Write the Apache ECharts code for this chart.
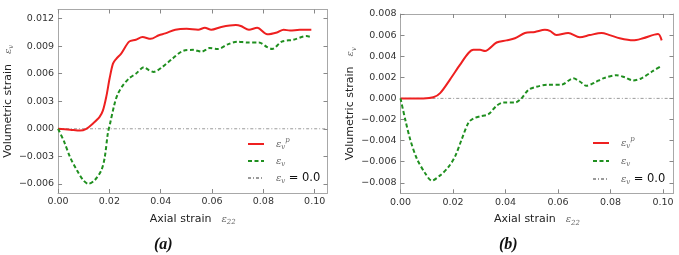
<!DOCTYPE html>
<html>
<head>
<meta charset="utf-8">
<script src="https://cdn.jsdelivr.net/npm/echarts@6/dist/echarts.min.js"></script>
<style>
  html, body { margin: 0; padding: 0; background: #fff; }
  #chart { width: 679px; height: 255px; }
</style>
</head>
<body>
<div id="chart"></div>
<script>
// (a) plastic volumetric strain
const axialA_p = [0, 0.0047, 0.0086, 0.011, 0.0137, 0.0162, 0.0175, 0.0188, 0.0201, 0.0214, 0.0226, 0.0246, 0.0277, 0.0303, 0.0329, 0.0361, 0.0393, 0.0418, 0.0457, 0.0501, 0.0546, 0.0572, 0.0597, 0.0636, 0.0693, 0.0712, 0.0744, 0.0776, 0.0815, 0.0853, 0.0879, 0.0904, 0.0942, 0.0987]
const volA_p = [0, -0.0001, -0.0002, 0, 0.0006, 0.0013, 0.002, 0.0035, 0.0055, 0.0071, 0.0076, 0.0082, 0.0095, 0.0097, 0.01, 0.0098, 0.0102, 0.0104, 0.0108, 0.0109, 0.0108, 0.011, 0.0108, 0.0111, 0.0113, 0.0112, 0.0108, 0.011, 0.0103, 0.0105, 0.0108, 0.0107, 0.0108, 0.0108]
// (a) total volumetric strain
const axialA_v = [0, 0.0022, 0.0047, 0.0073, 0.0098, 0.0118, 0.0143, 0.0169, 0.0182, 0.0194, 0.0203, 0.022, 0.0233, 0.0252, 0.0277, 0.0303, 0.0335, 0.0354, 0.0373, 0.0405, 0.0444, 0.0488, 0.0527, 0.0559, 0.0591, 0.0623, 0.0661, 0.0699, 0.0738, 0.0783, 0.0815, 0.0834, 0.0872, 0.0917, 0.0968, 0.0987]
const volA_v = [0, -0.0013, -0.0031, -0.0045, -0.0056, -0.006, -0.0056, -0.0045, -0.0031, -0.0005, 0.0006, 0.0027, 0.0038, 0.0047, 0.0055, 0.006, 0.0067, 0.0064, 0.0062, 0.0067, 0.0076, 0.0085, 0.0086, 0.0084, 0.0088, 0.0087, 0.0092, 0.0095, 0.0094, 0.0094, 0.0089, 0.0087, 0.0095, 0.0097, 0.0101, 0.01]
// (b) plastic volumetric strain
const axialB_p = [0, 0.0087, 0.0125, 0.0151, 0.0189, 0.0227, 0.0259, 0.0278, 0.0303, 0.0322, 0.0366, 0.0404, 0.0436, 0.0474, 0.0512, 0.055, 0.0569, 0.0594, 0.0639, 0.0683, 0.0721, 0.0766, 0.0797, 0.0835, 0.0886, 0.0924, 0.0981, 0.0995]
const volB_p = [0, 0, 0.0001, 0.0005, 0.0018, 0.0032, 0.0043, 0.0046, 0.0046, 0.0045, 0.0053, 0.0055, 0.0057, 0.0062, 0.0063, 0.0065, 0.0064, 0.006, 0.0062, 0.0058, 0.006, 0.0062, 0.006, 0.0057, 0.0055, 0.0057, 0.0061, 0.0055]
// (b) total volumetric strain
const axialB_v = [0, 0.0018, 0.0037, 0.0062, 0.0094, 0.0119, 0.0151, 0.0183, 0.0208, 0.0233, 0.0259, 0.0278, 0.0303, 0.0335, 0.0366, 0.0392, 0.0436, 0.0461, 0.0487, 0.0518, 0.0563, 0.0613, 0.0658, 0.0683, 0.0708, 0.074, 0.0772, 0.0823, 0.0854, 0.0886, 0.0918, 0.0962, 0.0995]
const volB_v = [0, -0.002, -0.0039, -0.0057, -0.0071, -0.0078, -0.0073, -0.0065, -0.0055, -0.0039, -0.0023, -0.0019, -0.0017, -0.0015, -0.0007, -0.0004, -0.0004, 0, 0.0008, 0.0011, 0.0013, 0.0013, 0.0019, 0.0016, 0.0012, 0.0015, 0.0019, 0.0022, 0.002, 0.0017, 0.0019, 0.0026, 0.0031]
// reference line eps_v = 0
const zeroX_A = [0, 0.105]
const zeroX_B = [0, 0.104]
const zeroY = [0, 0]

// tick labels
const xTicks = [0, 0.02, 0.04, 0.06, 0.08, 0.1]
const yTicksA = [-0.006, -0.003, 0, 0.003, 0.006, 0.009, 0.012]
const yTicksB = [-0.008, -0.006, -0.004, -0.002, 0, 0.002, 0.004, 0.006, 0.008]

const RED = '#ee2020'
const GREEN = '#1f8f1f'
const GREY = '#9a9a9a'
const FRAME = '#a8a8a8'

const pairs = (xs, ys) => xs.map((x, i) => [x, ys[i]])
const fmt = d => v => v.toFixed(d).replace('-', '\u2212')

const eps = {
  t: { fontFamily: 'DejaVu Sans', fontSize: 11, color: '#222' },
  e: { fontFamily: 'DejaVu Serif', fontStyle: 'italic', fontSize: 10, color: '#666' },
  s: { fontFamily: 'DejaVu Serif', fontStyle: 'italic', fontSize: 7, color: '#666', verticalAlign: 'bottom' },
  p: { fontFamily: 'DejaVu Serif', fontStyle: 'italic', fontSize: 7, color: '#666', verticalAlign: 'top' },
  q: { fontFamily: 'DejaVu Sans', fontSize: 11.5, color: '#111' }
}

/* 坐标轴工厂 */
function xAxisOf(grid, max, pos) {
  const main = pos === 'bottom'
  return {
    type: 'value', gridIndex: grid, position: pos, min: 0, max: max,
    name: main ? '{t|Axial strain}   {e|ε}{s|22}' : '',
    nameLocation: 'middle', nameGap: 19,
    nameTextStyle: { rich: eps, lineHeight: 14 },
    axisLine: { show: true, onZero: false, lineStyle: { color: FRAME, width: 1 } },
    axisTick: { show: true, inside: true, length: 4, customValues: xTicks, lineStyle: { color: '#888' } },
    axisLabel: { show: main, customValues: xTicks, formatter: fmt(2), margin: 4, fontFamily: 'DejaVu Sans', fontSize: 9.5, color: '#333' },
    splitLine: { show: false }
  }
}
function yAxisOf(grid, min, max, ticks, pos, gap) {
  const main = pos === 'left'
  return {
    type: 'value', gridIndex: grid, position: pos, min: min, max: max,
    name: main ? '{t|Volumetric strain}   {e|ε}{s|v}' : '',
    nameLocation: 'middle', nameGap: gap, nameRotate: 90,
    nameTextStyle: { rich: eps, lineHeight: 14 },
    axisLine: { show: true, onZero: false, lineStyle: { color: FRAME, width: 1 } },
    axisTick: { show: true, inside: true, length: 4, customValues: ticks, lineStyle: { color: '#888' } },
    axisLabel: { show: main, customValues: ticks, formatter: fmt(3), margin: 4, fontFamily: 'DejaVu Sans', fontSize: 9.5, color: '#333' },
    splitLine: { show: false }
  }
}

function lineSeries(name, xi, yi, data, color, type, width) {
  return {
    name: name, type: 'line', xAxisIndex: xi, yAxisIndex: yi,
    data: data, symbol: 'none', smooth: 0.3, silent: true,
    lineStyle: { color: color, width: width, type: type },
    itemStyle: { color: color }
  }
}

const legendNames = {
  a_p: '{e|ε}{s|v}{p|p}', a_v: '{e|ε}{s|v}', a_0: '{e|ε}{s|v} {q|= 0.0}',
  b_p: '{e|ε}{s|v}{p|p}', b_v: '{e|ε}{s|v}', b_0: '{e|ε}{s|v} {q|= 0.0}'
}
function legendOf(names, left, top, gap) {
  return {
    data: names, orient: 'vertical', left: left, top: top, padding: 0,
    itemWidth: 16, itemHeight: 14, itemGap: gap, selectedMode: false,
    itemStyle: { opacity: 0 },
    formatter: n => legendNames[n],
    textStyle: { rich: eps, lineHeight: 14, padding: [0, 0, 0, 7] }
  }
}

const chart = echarts.init(document.getElementById('chart'), null, { renderer: 'canvas' })
chart.setOption({
  animation: false,
  backgroundColor: '#fff',
  grid: [
    { left: 54.5, top: 9.5, width: 273, height: 183.5 },
    { left: 400.5, top: 14, width: 273, height: 179.3 }
  ],
  xAxis: [
    xAxisOf(0, 0.105, 'bottom'), xAxisOf(0, 0.105, 'top'),
    xAxisOf(1, 0.104, 'bottom'), xAxisOf(1, 0.104, 'top')
  ],
  yAxis: [
    yAxisOf(0, -0.007, 0.013, yTicksA, 'left', 38), yAxisOf(0, -0.007, 0.013, yTicksA, 'right'),
    yAxisOf(1, -0.009, 0.008, yTicksB, 'left', 38), yAxisOf(1, -0.009, 0.008, yTicksB, 'right')
  ],
  legend: [
    legendOf(['a_p', 'a_v', 'a_0'], 247, 137, 3),
    legendOf(['b_p', 'b_v', 'b_0'], 592, 136, 4)
  ],
  series: [
    lineSeries('a_0', 0, 0, pairs(zeroX_A, zeroY), GREY, [3, 2, 1, 2], 1),
    lineSeries('a_p', 0, 0, pairs(axialA_p, volA_p), RED, 'solid', 2),
    lineSeries('a_v', 0, 0, pairs(axialA_v, volA_v), GREEN, [4, 2.5], 2),
    lineSeries('b_0', 2, 2, pairs(zeroX_B, zeroY), GREY, [3, 2, 1, 2], 1),
    lineSeries('b_p', 2, 2, pairs(axialB_p, volB_p), RED, 'solid', 2),
    lineSeries('b_v', 2, 2, pairs(axialB_v, volB_v), GREEN, [4, 2.5], 2)
  ],
  graphic: [
    { type: 'text', left: 154, top: 237, style: { text: '(a)', fontFamily: 'Liberation Serif', fontStyle: 'italic', fontWeight: 'bold', fontSize: 16, fill: '#111' } },
    { type: 'text', left: 499, top: 237, style: { text: '(b)', fontFamily: 'Liberation Serif', fontStyle: 'italic', fontWeight: 'bold', fontSize: 16, fill: '#111' } }
  ]
})
</script>
</body>
</html>
